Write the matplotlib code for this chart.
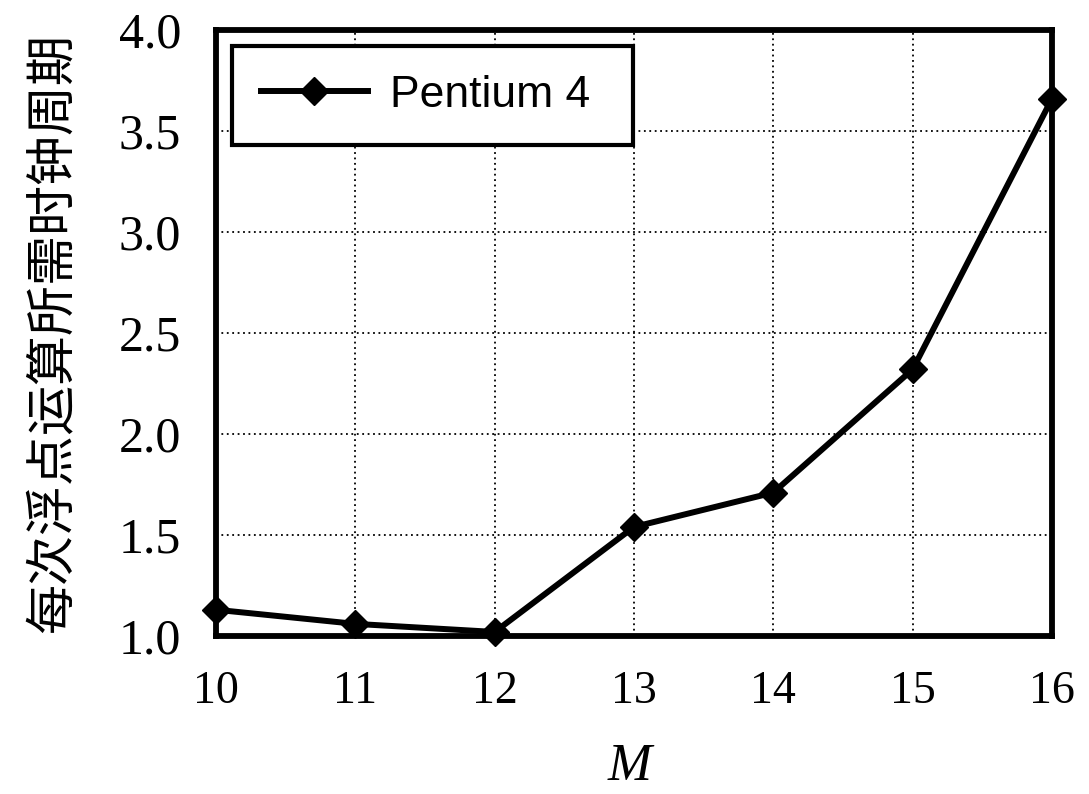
import matplotlib
matplotlib.use("Agg")
import matplotlib.pyplot as plt

M = [10, 11, 12, 13, 14, 15, 16]
cycles = [1.13, 1.06, 1.02, 1.54, 1.71, 2.32, 3.66]
series_name = "Pentium 4"
y_ticks = [1.0, 1.5, 2.0, 2.5, 3.0, 3.5, 4.0]
y_label = "每次浮点运算所需时钟周期"
x_label = "M"

W, H = 1089, 794
fig = plt.figure(figsize=(W / 100, H / 100), dpi=100)
ax = fig.add_axes([216 / W, 1 - 636 / H, 836 / W, 606 / H])

ax.plot(M, cycles, color="black", lw=4.3, marker="D", markersize=14,
        label=series_name, clip_on=False, zorder=5)

ax.set_xlim(10, 16)
ax.set_ylim(1.0, 4.0)
ax.set_xticks(M)
ax.set_yticks(y_ticks)
ax.set_xticklabels([str(m) for m in M], fontsize=33, family="Liberation Serif")
ax.set_yticklabels([f"{v:.1f}" for v in y_ticks], fontsize=36,
                   family="Liberation Serif")
ax.tick_params(axis="x", length=0, pad=25)
ax.tick_params(axis="y", length=0, pad=25)
ax.grid(True, color="black", ls=(0, (1, 2)), lw=1.3)
for s in ax.spines.values():
    s.set_linewidth(4.2)

ax.set_ylabel(y_label, fontsize=36, family=["Noto Sans CJK SC", "DejaVu Sans"])
ax.yaxis.set_label_coords(-0.163, 0.5)
fig.text(630 / W, 1 - 780 / H, x_label, fontsize=38, family="Liberation Serif",
         style="italic", ha="center", va="baseline")

leg = ax.legend(loc="upper left", prop={"family": "Liberation Sans", "size": 32},
                fancybox=False, framealpha=1, edgecolor="black", handlelength=2.4,
                handletextpad=0.5, borderpad=0.65, borderaxespad=0,
                bbox_to_anchor=(16 / 836, 1 - 16 / 606, 401 / 836, 0), mode="expand")
leg.get_frame().set_linewidth(3)

fig.savefig("out.png", dpi=100)
